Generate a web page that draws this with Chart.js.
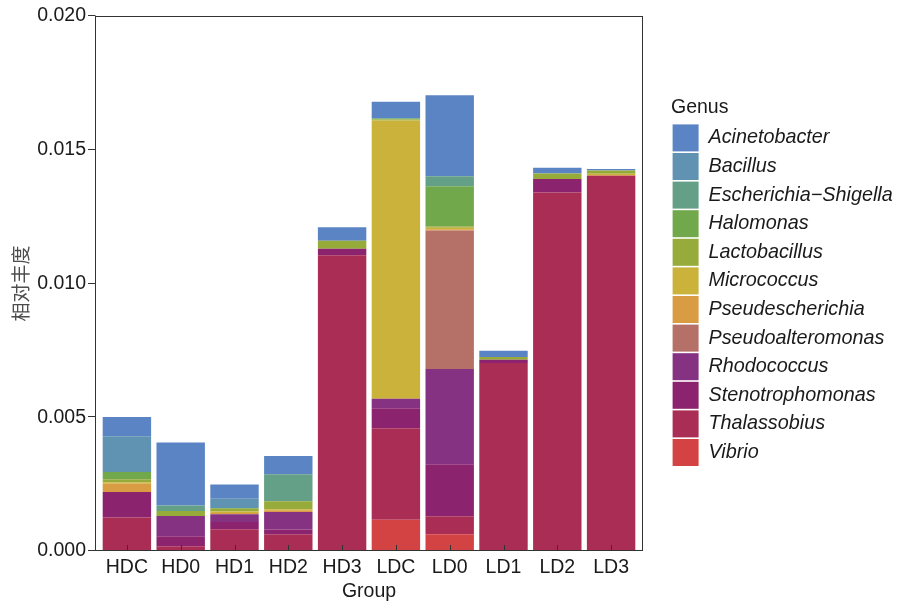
<!DOCTYPE html>
<html>
<head>
<meta charset="utf-8">
<script src="https://cdn.jsdelivr.net/npm/chart.js@4"></script>
<style>
  body { margin: 0; background: #fff; }
</style>
</head>
<body>
<canvas id="grafico" width="897" height="603"></canvas>
<script>
const groups = ['HDC', 'HD0', 'HD1', 'HD2', 'HD3', 'LDC', 'LD0', 'LD1', 'LD2', 'LD3'];

// stacked from the bottom up
const vibrio = [0, 0, 0, 0, 0, 0.00117, 0.00063, 0, 0, 0];
const thalassobius = [0.00125, 0.00018, 0.00081, 0.00063, 0.01106, 0.00342, 0.00067, 0.00703, 0.0134, 0.01403];
const stenotrophomonas = [0.00096, 0.00037, 0.00027, 0.00017, 0.00024, 0.00075, 0.00194, 0.00012, 0.00051, 0];
const rhodococcus = [0, 0.00076, 0.00029, 0.00066, 0, 0.00035, 0.00356, 0, 0, 0];
const pseudoalteromonas = [0, 0, 0, 0, 0, 0, 0.00518, 0, 0, 0];
const pseudescherichia = [0.0003, 0, 0.00005, 0.00006, 0, 0, 0.00005, 0, 0, 0.00003];
const micrococcus = [0.00005, 0, 0.00006, 0.00004, 0, 0.0104, 0.00005, 0, 0, 0.00004];
const lactobacillus = [0.00012, 0.00019, 0.0001, 0.0003, 0.0003, 0.00004, 0.00006, 0.0001, 0.0002, 0.00012];
const halomonas = [0.00027, 0, 0.00003, 0, 0, 0.00003, 0.0015, 0, 0, 0];
const escherichia = [0, 0.0002, 0, 0.00101, 0, 0.00003, 0.00037, 0, 0, 0];
const bacillus = [0.00134, 0, 0.00034, 0, 0, 0, 0, 0, 0, 0];
const acinetobacter = [0.00072, 0.00236, 0.00054, 0.00068, 0.0005, 0.0006, 0.00303, 0.00024, 0.00022, 0.00006];

const yTicks = [0, 0.005, 0.010, 0.015, 0.020];

const series = [
  ['Vibrio', vibrio, '#d44343'],
  ['Thalassobius', thalassobius, '#aa2d55'],
  ['Stenotrophomonas', stenotrophomonas, '#8c236f'],
  ['Rhodococcus', rhodococcus, '#853283'],
  ['Pseudoalteromonas', pseudoalteromonas, '#b57167'],
  ['Pseudescherichia', pseudescherichia, '#da9c42'],
  ['Micrococcus', micrococcus, '#cbb23b'],
  ['Lactobacillus', lactobacillus, '#97ab3a'],
  ['Halomonas', halomonas, '#72a84c'],
  ['Escherichia\u2212Shigella', escherichia, '#649f88'],
  ['Bacillus', bacillus, '#5f93b1'],
  ['Acinetobacter', acinetobacter, '#5b84c4']
];

const fontFam = '"Liberation Sans", Arial, sans-serif';
const expand = 5; // panel reaches a little past the outer bars

// frame round the panel + tick marks (y outward, x inward)
const panelFrame = {
  id: 'panelFrame',
  afterDatasetsDraw(chart) {
    const { ctx, chartArea: a, scales } = chart;
    const left = a.left - expand, right = a.right + expand;
    ctx.save();
    ctx.strokeStyle = '#333';
    ctx.lineWidth = 1;
    ctx.strokeRect(left + 0.5, a.top + 0.5, right - left - 1, a.bottom - a.top - 1);
    ctx.beginPath();
    scales.x.ticks.forEach((t, i) => {
      const x = Math.round(scales.x.getPixelForTick(i)) + 0.5;
      ctx.moveTo(x, a.bottom);
      ctx.lineTo(x, a.bottom - 6);
    });
    yTicks.forEach(v => {
      const y = Math.round(scales.y.getPixelForValue(v)) - 0.5;
      ctx.moveTo(left + 0.5, y);
      ctx.lineTo(left - 7, y);
    });
    ctx.stroke();
    ctx.restore();
  }
};

// fixed legend column on the right, pushed away from the panel
const legendBox = {
  id: 'legendBox',
  afterInit(chart) {
    const lg = chart.legend;
    const fit = lg.fit;
    lg.fit = function () { fit.call(this); this.width = 259; };
    const draw = lg.draw;
    lg.draw = function () {
      const c = this.ctx;
      c.save();
      c.translate(33, -27);
      draw.apply(this, arguments);
      c.restore();
    };
  }
};

const ctx = document.getElementById('grafico').getContext('2d');

new Chart(ctx, {
  type: 'bar',
  data: {
    labels: groups,
    datasets: series.map(([name, vals, col]) => ({
      label: name,
      data: vals,
      backgroundColor: col,
      borderWidth: 0,
      categoryPercentage: 1,
      barPercentage: 0.9
    }))
  },
  options: {
    responsive: false,
    animation: false,
    layout: { padding: { top: 16, right: 0, bottom: 0, left: 0 } },
    plugins: {
      tooltip: { enabled: false },
      legend: {
        position: 'right',
        align: 'center',
        reverse: true,
        title: {
          display: true,
          text: 'Genus',
          position: 'start',
          color: '#1a1a1a',
          font: { family: fontFam, size: 19.5 },
          padding: { top: 0, bottom: 2 }
        },
        labels: {
          boxWidth: 26,
          boxHeight: 27,
          padding: 1.6,
          color: '#1a1a1a',
          font: { family: fontFam, size: 19.8, style: 'italic' }
        }
      }
    },
    scales: {
      x: {
        stacked: true,
        afterFit(scale) { scale.height = 52; },
        grid: { display: false, drawTicks: false },
        border: { display: false },
        ticks: { color: '#1a1a1a', padding: 5, font: { family: fontFam, size: 19.5 } },
        title: {
          display: true,
          text: 'Group',
          color: '#1a1a1a',
          font: { family: fontFam, size: 19.5 },
          padding: { top: 0, bottom: 0 }
        }
      },
      y: {
        stacked: true,
        min: 0,
        max: 0.02,
        afterBuildTicks(scale) {
          scale.ticks = yTicks.map(v => ({ value: v }));
        },
        afterFit(scale) {
          scale.width = 100;
          scale.paddingTop = 10;
          scale.paddingBottom = 10;
        },
        grid: { display: false, drawTicks: false },
        border: { display: false },
        ticks: {
          color: '#1a1a1a',
          padding: 14,
          font: { family: fontFam, size: 19.5 },
          callback: v => v.toFixed(3)
        },
        title: {
          display: true,
          text: '相对丰度',
          color: '#4d4d4d',
          font: { family: '"Noto Sans CJK SC", sans-serif', size: 19 },
          padding: { top: 9, bottom: 4 }
        }
      }
    }
  },
  plugins: [panelFrame, legendBox]
});
</script>
</body>
</html>
